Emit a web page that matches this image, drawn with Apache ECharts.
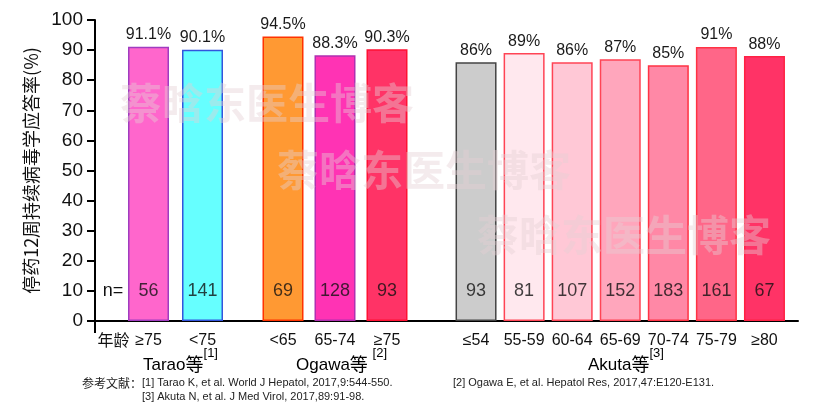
<!DOCTYPE html>
<html><head><meta charset="utf-8">
<script src="https://cdn.jsdelivr.net/npm/echarts@6/dist/echarts.min.js"></script>
<style>html,body{margin:0;padding:0;background:#fff}#c{width:829px;height:420px}</style>
</head><body><div id="c"></div>
<script>
// ---- data ----
const taraoCats = ['≥75', '<75'];
const taraoVals = [91.1, 90.1];
const taraoN = [56, 141];
const ogawaCats = ['<65', '65-74', '≥75'];
const ogawaVals = [94.5, 88.3, 90.3];
const ogawaN = [69, 128, 93];
const akutaCats = ['≤54', '55-59', '60-64', '65-69', '70-74', '75-79', '≥80'];
const akutaVals = [86, 89, 86, 87, 85, 91, 88];
const akutaN = [93, 81, 107, 152, 183, 161, 67];
const nLevel = 10;
const yTicks = [0, 100, 10]; // min, max, interval

// ---- styles ----
const taraoFill = ['#FF66CC', '#66FFFF'];
const taraoLine = ['#A03CC0', '#3355DD'];
const ogawaFill = ['#FF9933', '#FF33B4', '#FF3366'];
const ogawaLine = ['#FF3300', '#B030B0', '#FF1133'];
const akutaFill = ['#CCCCCC', '#FFE8EE', '#FFC8D6', '#FFA6BC', '#FF88A6', '#FF6688', '#FF3366'];
const akutaLine = ['#444444', '#FF4455', '#FF4455', '#FF4455', '#FF3344', '#FF3344', '#FF2244'];

const LAT = 'Liberation Sans, Arial, Noto Sans CJK SC, sans-serif';
const CJK = 'Noto Sans CJK SC, sans-serif';
const chart = echarts.init(document.getElementById('c'), null, {renderer: 'canvas'});

const grids = [
  {left: 95, right: 31, top: 20, bottom: 99},
  {left: 121.5, width: 108, top: 20, bottom: 99},
  {left: 257, width: 156, top: 20, bottom: 99},
  {left: 452, width: 336.5, top: 20, bottom: 99}
];

const groups = [
  {cats: taraoCats, vals: taraoVals, n: taraoN, fill: taraoFill, line: taraoLine},
  {cats: ogawaCats, vals: ogawaVals, n: ogawaN, fill: ogawaFill, line: ogawaLine},
  {cats: akutaCats, vals: akutaVals, n: akutaN, fill: akutaFill, line: akutaLine}
];

const xAxes = [{
  gridIndex: 0, type: 'value', min: 0, max: 1,
  axisLine: {show: true, lineStyle: {color: '#000', width: 2}},
  axisTick: {show: false}, axisLabel: {show: false}, splitLine: {show: false}
}];
const yAxes = [{
  gridIndex: 0, type: 'value', min: yTicks[0], max: yTicks[1], interval: yTicks[2],
  name: '停药12周持续病毒学应答率(%)', nameLocation: 'middle', nameGap: 51,
  nameTextStyle: {fontSize: 18, color: '#111', fontFamily: CJK},
  axisLine: {show: true, lineStyle: {color: '#000', width: 2}},
  axisTick: {show: true, length: 8, lineStyle: {color: '#000', width: 2}},
  axisLabel: {fontSize: 19, color: '#111', fontFamily: LAT, margin: 12},
  splitLine: {show: false}
}];
const series = [];
groups.forEach((g, k) => {
  const gi = k + 1;
  xAxes.push({
    gridIndex: gi, type: 'category', data: g.cats,
    axisLine: {show: false}, axisTick: {show: false},
    axisLabel: {fontSize: 16, color: '#111', fontFamily: LAT, margin: 12, interval: 0}
  });
  yAxes.push({gridIndex: gi, type: 'value', min: yTicks[0], max: yTicks[1], show: false, splitLine: {show: false}});
  series.push({
    type: 'bar', xAxisIndex: gi, yAxisIndex: gi, barWidth: 41,
    data: g.vals.map((v, i) => ({
      value: v,
      itemStyle: {color: g.fill[i], borderColor: g.line[i], borderWidth: 1.5}
    })),
    label: {show: true, position: 'top', distance: 4, fontSize: 16, color: '#1a1a1a',
      fontFamily: LAT, formatter: p => p.value + '%'}
  });
  series.push({
    type: 'scatter', xAxisIndex: gi, yAxisIndex: gi, symbolSize: 0, z: 5,
    data: g.cats.map((c, i) => [c, nLevel]),
    label: {show: true, position: 'inside', fontSize: 18, color: '#111', fontFamily: LAT,
      formatter: p => String(g.n[p.dataIndex])}
  });
});

const supRich = {
  a: {fontSize: 17, fontFamily: LAT, color: '#111', lineHeight: 20, verticalAlign: 'bottom'},
  b: {fontSize: 18, fontFamily: CJK, color: '#888', lineHeight: 20, verticalAlign: 'bottom'},
  c: {fontSize: 13, fontFamily: LAT, color: '#111', lineHeight: 13, padding: [0, 0, 14, 0], verticalAlign: 'bottom'}
};
function groupLabel(x, txt) {
  return {type: 'text', x: x, y: 363.5, z: 10,
    style: {text: txt, rich: supRich, align: 'left', verticalAlign: 'middle'}};
}
const wm = (x, y) => ({type: 'text', x: x, y: y, z: 100,
  style: {text: '蔡晗东医生博客', fontSize: 42, fontWeight: 'bold', fontFamily: CJK,
    fill: 'rgba(228,208,211,0.42)', align: 'left', verticalAlign: 'middle'}});
const refStyle = (x, y, t, f, s) => ({type: 'text', x: x, y: y, z: 10,
  style: {text: t, fontSize: s, fontFamily: f, fill: '#222', align: 'left', verticalAlign: 'middle'}});

chart.setOption({
  animation: false,
  backgroundColor: '#fff',
  grid: grids,
  xAxis: xAxes,
  yAxis: yAxes,
  series: series,
  graphic: [
    {type: 'line', z: 10, shape: {x1: 95, y1: 321, x2: 95, y2: 333}, style: {stroke: '#000', lineWidth: 2}},
    {type: 'text', x: 113, y: 291, z: 10, style: {text: 'n=', fontSize: 18, fontFamily: LAT, fill: '#111', align: 'center', verticalAlign: 'middle'}},
    {type: 'text', x: 113.5, y: 340, z: 10, style: {text: '年龄', fontSize: 16, fontFamily: CJK, fill: '#111', align: 'center', verticalAlign: 'middle'}},
    groupLabel(143, '{a|Tarao}{b|等}{c|[1]}'),
    groupLabel(296, '{a|Ogawa}{b|等}{a| }{c|[2]}'),
    groupLabel(588, '{a|Akuta}{b|等}{c|[3]}'),
    refStyle(82, 383, '参考文献：', CJK, 12),
    refStyle(142, 383, '[1] Tarao K, et al. World J Hepatol, 2017,9:544-550.', LAT, 11),
    refStyle(453, 383, '[2] Ogawa E, et al. Hepatol Res, 2017,47:E120-E131.', LAT, 11),
    refStyle(142, 397, '[3] Akuta N, et al. J Med Virol, 2017,89:91-98.', LAT, 11),
    wm(120, 103),
    wm(277, 170),
    wm(477, 235)
  ]
});
</script></body></html>
